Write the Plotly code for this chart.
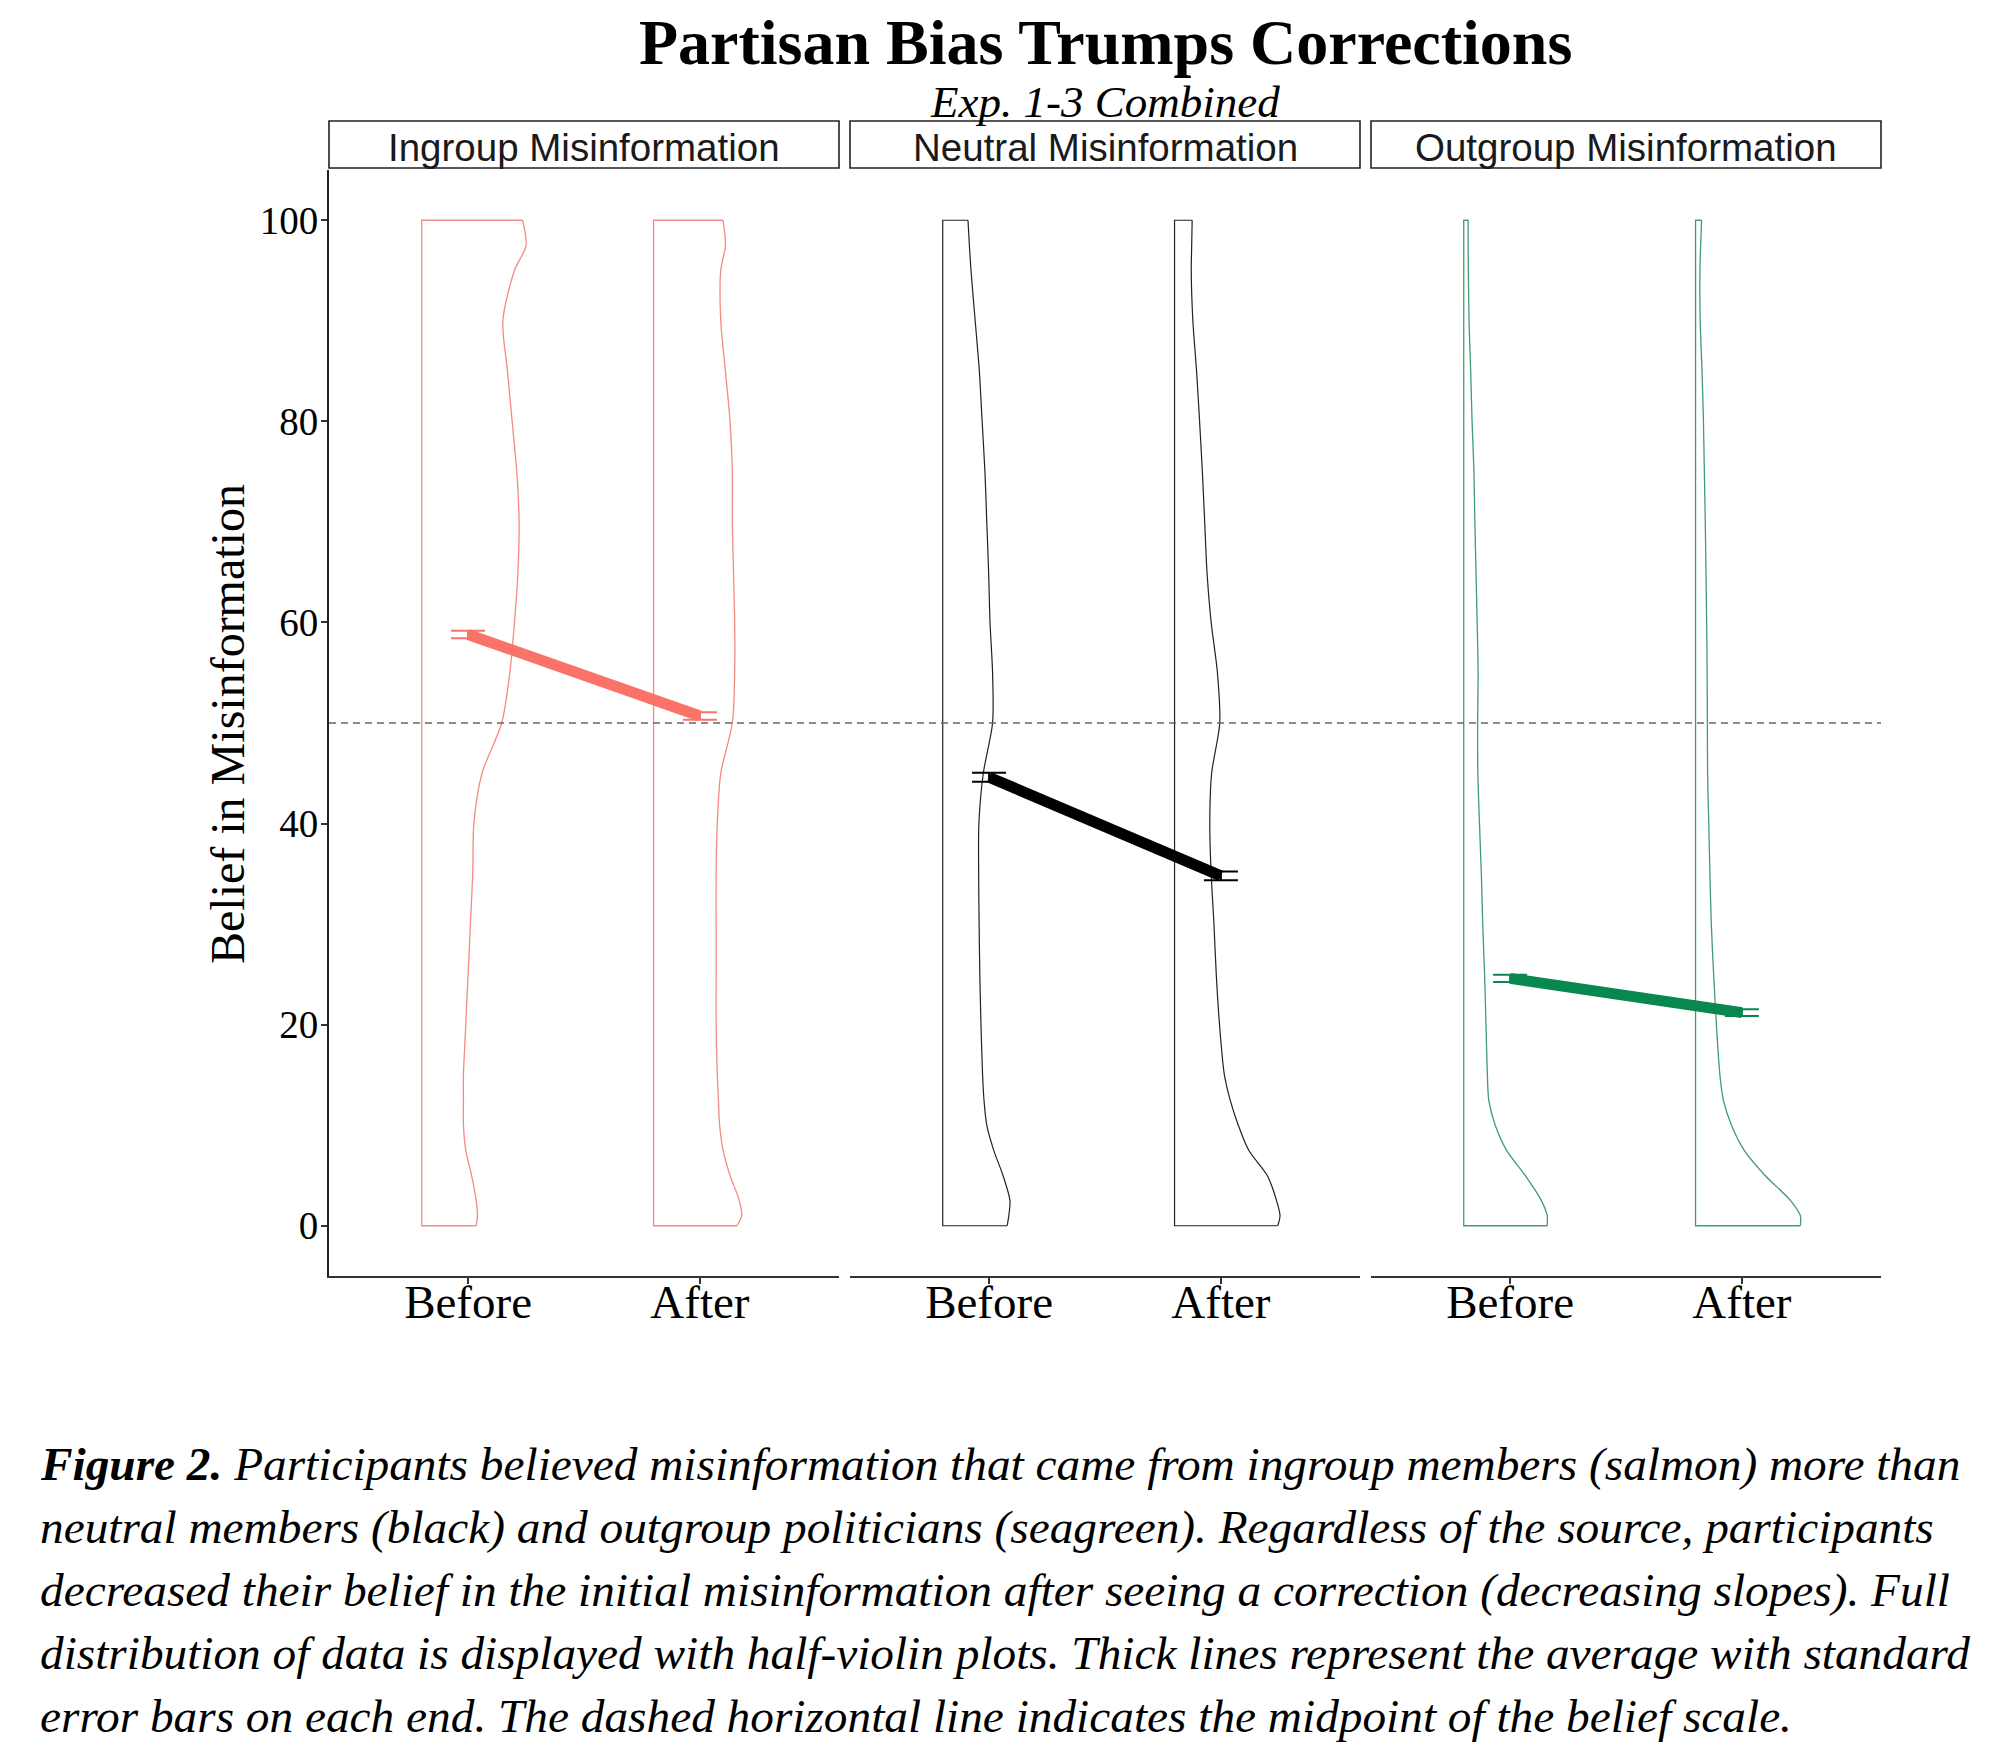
import plotly.graph_objects as go

# ---------------- data ----------------
PANELS = ["Ingroup Misinformation", "Neutral Misinformation", "Outgroup Misinformation"]
TIMES = ["Before", "After"]
TIME_POS = [1, 2]
Y_TICKS = [0, 20, 40, 60, 80, 100]
MIDPOINT = 50

MEANS_INGROUP = [58.8, 50.7]
MEANS_NEUTRAL = [44.6, 34.8]
MEANS_OUTGROUP = [24.6, 21.2]
SE_INGROUP = [0.37, 0.37]
SE_NEUTRAL = [0.44, 0.44]
SE_OUTGROUP = [0.36, 0.33]

# half-violin widths (x units) at each belief level
DENSITY_Y = [0, 1, 2.5, 5, 7.5, 10, 12.5, 15, 20, 25, 30, 35, 40, 45, 50,
             55, 60, 65, 70, 75, 80, 85, 90, 95, 97.5, 100]
DENS_INGROUP_BEFORE = [0.235, 0.24, 0.235, 0.215, 0.19, 0.18, 0.18, 0.18, 0.19, 0.20, 0.21, 0.22, 0.225,
                       0.26, 0.345, 0.38, 0.40, 0.415, 0.42, 0.41, 0.39, 0.37, 0.35, 0.40, 0.45, 0.435]
DENS_INGROUP_AFTER = [0.36, 0.38, 0.37, 0.33, 0.30, 0.285, 0.28, 0.275, 0.27, 0.27, 0.27, 0.27, 0.275,
                      0.29, 0.34, 0.35, 0.35, 0.345, 0.34, 0.34, 0.33, 0.31, 0.29, 0.29, 0.31, 0.30]
DENS_NEUTRAL_BEFORE = [0.278, 0.285, 0.29, 0.26, 0.22, 0.19, 0.178, 0.172, 0.165, 0.16, 0.157, 0.155, 0.156,
                       0.175, 0.215, 0.215, 0.204, 0.198, 0.19, 0.182, 0.17, 0.158, 0.14, 0.122, 0.115, 0.109]
DENS_NEUTRAL_AFTER = [0.445, 0.455, 0.44, 0.40, 0.32, 0.275, 0.24, 0.215, 0.194, 0.18, 0.17, 0.158, 0.152,
                      0.16, 0.195, 0.185, 0.158, 0.14, 0.13, 0.12, 0.108, 0.095, 0.079, 0.072, 0.074, 0.076]
DENS_OUTGROUP_BEFORE = [0.36, 0.36, 0.335, 0.265, 0.185, 0.136, 0.108, 0.102, 0.096, 0.09, 0.082, 0.076, 0.068,
                        0.061, 0.06, 0.062, 0.058, 0.053, 0.048, 0.044, 0.036, 0.03, 0.023, 0.02, 0.019, 0.019]
DENS_OUTGROUP_AFTER = [0.452, 0.452, 0.41, 0.30, 0.21, 0.155, 0.12, 0.105, 0.09, 0.078, 0.068, 0.062, 0.057,
                       0.052, 0.051, 0.05, 0.048, 0.045, 0.042, 0.038, 0.034, 0.028, 0.02, 0.019, 0.022, 0.026]

TITLE = "Partisan Bias Trumps Corrections"
SUBTITLE = "Exp. 1-3 Combined"
Y_TITLE = "Belief in Misinformation"
CAPTION_LINES = [
    "<b>Figure 2.</b> Participants believed misinformation that came from ingroup members (salmon) more than",
    "neutral members (black) and outgroup politicians (seagreen). Regardless of the source, participants",
    "decreased their belief in the initial misinformation after seeing a correction (decreasing slopes). Full",
    "distribution of data is displayed with half-violin plots. Thick lines represent the average with standard",
    "error bars on each end. The dashed horizontal line indicates the midpoint of the belief scale.",
]

# ---------------- style ----------------
W, H = 2000, 1746
SERIF = "Liberation Serif, Times New Roman, serif"
SANS = "Liberation Sans, Arial, sans-serif"
PANEL_PX = [(329, 839), (850, 1360), (1371, 1881)]
PLOT_TOP, PLOT_BOTTOM = 170, 1276
STRIP_TOP, STRIP_BOTTOM = 121, 168
VIOLIN_NUDGE = -0.2

groups = [
    dict(means=MEANS_INGROUP, se=SE_INGROUP, dens=[DENS_INGROUP_BEFORE, DENS_INGROUP_AFTER],
         outline="#F58B80", line="#FA7268", ow=1.3),
    dict(means=MEANS_NEUTRAL, se=SE_NEUTRAL, dens=[DENS_NEUTRAL_BEFORE, DENS_NEUTRAL_AFTER],
         outline="#222222", line="#000000", ow=1.2),
    dict(means=MEANS_OUTGROUP, se=SE_OUTGROUP, dens=[DENS_OUTGROUP_BEFORE, DENS_OUTGROUP_AFTER],
         outline="#3F9D70", line="#08874E", ow=1.3),
]


def px_x(p):
    return p / W


def px_y(p):
    return 1 - p / H


fig = go.Figure()

for i, g in enumerate(groups):
    xa = "x" if i == 0 else f"x{i + 1}"
    for t, pos in enumerate(TIME_POS):
        base = pos + VIOLIN_NUDGE
        dens = g["dens"][t]
        # curved side
        fig.add_trace(go.Scatter(
            x=[base + w for w in dens], y=DENSITY_Y, mode="lines",
            line=dict(color=g["outline"], width=g["ow"], shape="spline", smoothing=0.8),
            xaxis=xa, yaxis="y", showlegend=False, hoverinfo="skip"))
        # flat side (base line with top/bottom closures)
        fig.add_trace(go.Scatter(
            x=[base + dens[-1], base, base, base + dens[0]],
            y=[DENSITY_Y[-1], DENSITY_Y[-1], DENSITY_Y[0], DENSITY_Y[0]], mode="lines",
            line=dict(color=g["outline"], width=g["ow"]),
            xaxis=xa, yaxis="y", showlegend=False, hoverinfo="skip"))
    # error bars
    fig.add_trace(go.Scatter(
        x=TIME_POS, y=g["means"], mode="markers",
        marker=dict(size=1, color="rgba(0,0,0,0)"),
        error_y=dict(type="data", array=g["se"], visible=True, color=g["line"], thickness=2, width=17),
        xaxis=xa, yaxis="y", showlegend=False, hoverinfo="skip"))
    # mean line
    fig.add_trace(go.Scatter(
        x=TIME_POS, y=g["means"], mode="lines",
        line=dict(color=g["line"], width=11),
        xaxis=xa, yaxis="y", showlegend=False, hoverinfo="skip"))

layout = dict(
    width=W, height=H, autosize=False,
    margin=dict(l=0, r=0, t=0, b=0),
    paper_bgcolor="white", plot_bgcolor="white",
    showlegend=False,
)

for i, (a, b) in enumerate(PANEL_PX):
    key = "xaxis" if i == 0 else f"xaxis{i + 1}"
    layout[key] = dict(
        domain=[px_x(a), px_x(b)], range=[0.4, 2.6], anchor="y",
        tickmode="array", tickvals=TIME_POS, ticktext=TIMES,
        showline=True, linecolor="#333333", linewidth=2,
        ticks="outside", ticklen=6, tickwidth=1.5, tickcolor="#333333",
        tickfont=dict(family=SERIF, size=47, color="black"),
        ticklabelstandoff=-22,
        showgrid=False, zeroline=False, fixedrange=True,
    )

layout["yaxis"] = dict(
    domain=[px_y(PLOT_BOTTOM), px_y(PLOT_TOP)], range=[-5, 105], anchor="x",
    tickmode="array", tickvals=Y_TICKS,
    showline=True, linecolor="#222222", linewidth=2,
    ticks="outside", ticklen=6, tickwidth=1.5, tickcolor="#333333",
    tickfont=dict(family=SERIF, size=39, color="black"),
    ticklabelstandoff=-5,
    showgrid=False, zeroline=False, fixedrange=True,
)

shapes = []
# dashed midpoint line across all panels
shapes.append(dict(type="line", xref="paper", yref="y",
                   x0=px_x(PANEL_PX[0][0]), x1=px_x(PANEL_PX[-1][1]), y0=MIDPOINT, y1=MIDPOINT,
                   line=dict(color="#666666", width=1.6, dash="7px,5px"), layer="above"))
# strip boxes
for (a, b) in PANEL_PX:
    shapes.append(dict(type="rect", xref="paper", yref="paper",
                       x0=px_x(a), x1=px_x(b), y0=px_y(STRIP_BOTTOM), y1=px_y(STRIP_TOP),
                       line=dict(color="#222222", width=1.6), fillcolor="white"))
layout["shapes"] = shapes

ann = []
for (a, b), name in zip(PANEL_PX, PANELS):
    ann.append(dict(text=name, xref="paper", yref="paper", x=px_x((a + b) / 2),
                    y=px_y((STRIP_TOP + STRIP_BOTTOM) / 2 + 3), xanchor="center", yanchor="middle",
                    showarrow=False, font=dict(family=SANS, size=38.5, color="#1a1a1a")))
center_x = px_x((PANEL_PX[0][0] + PANEL_PX[-1][1]) / 2)
ann.append(dict(text=f"<b>{TITLE}</b>", xref="paper", yref="paper", x=center_x, y=px_y(42),
                xanchor="center", yanchor="middle", showarrow=False,
                font=dict(family=SERIF, size=64, color="black")))
ann.append(dict(text=f"<i>{SUBTITLE}</i>", xref="paper", yref="paper", x=center_x, y=px_y(102),
                xanchor="center", yanchor="middle", showarrow=False,
                font=dict(family=SERIF, size=45, color="black")))
ann.append(dict(text=Y_TITLE, xref="paper", yref="paper", x=px_x(227), y=px_y(724),
                xanchor="center", yanchor="middle", textangle=-90, showarrow=False,
                font=dict(family=SERIF, size=48, color="black")))
for k, line in enumerate(CAPTION_LINES):
    ann.append(dict(text=f"<i>{line}</i>", xref="paper", yref="paper", x=px_x(38),
                    y=px_y(1464 + 63 * k), xanchor="left", yanchor="middle", showarrow=False,
                    font=dict(family=SERIF, size=47.3, color="black")))
layout["annotations"] = ann

fig.update_layout(**layout)
fig.write_html("out.html", config={"displayModeBar": False},
               post_script="document.body.style.margin='0px';")
